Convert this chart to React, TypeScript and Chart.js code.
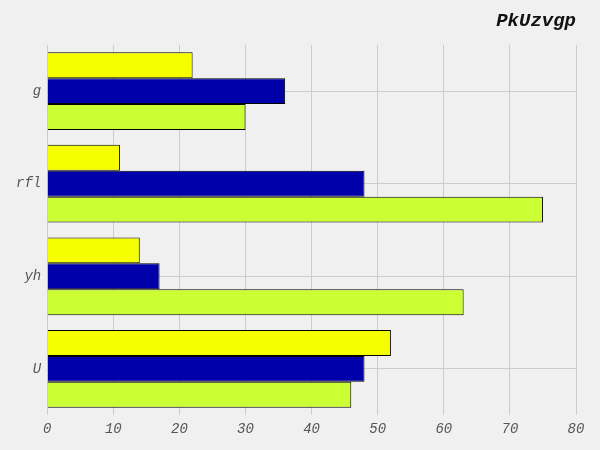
import { useEffect, useRef } from 'react'
import { Chart, registerables } from 'chart.js'
Chart.register(...registerables)

const categories = ['g', 'rfl', 'yh', 'U']
const yellowValues = [22, 11, 14, 52]
const blueValues = [36, 48, 17, 48]
const greenValues = [30, 75, 63, 46]
const xTicks = [0, 10, 20, 30, 40, 50, 60, 70, 80]

const mono = "'Liberation Mono', 'DejaVu Sans Mono', monospace"

export default function App() {
    const canvasRef = useRef<HTMLCanvasElement>(null)
    const chartRef = useRef<Chart | null>(null)

    useEffect(() => {
        document.body.style.margin = '0'
        if (!canvasRef.current) return
        const ctx = canvasRef.current.getContext('2d')!
        chartRef.current?.destroy()
        const bar = (data: number[], color: string) => ({
            data, backgroundColor: color, borderColor: '#000000', borderWidth: 1,
            barPercentage: 1, categoryPercentage: 0.84,
        })
        chartRef.current = new Chart(ctx, {
            type: 'bar',
            data: {
                labels: categories,
                datasets: [
                    bar(yellowValues, '#f5ff00'),
                    bar(blueValues, '#0000aa'),
                    bar(greenValues, '#ccff33'),
                ],
            },
            options: {
                indexAxis: 'y',
                animation: false,
                responsive: true, maintainAspectRatio: false,
                layout: { padding: { left: 10, right: 24, top: 6, bottom: 6 } },
                plugins: {
                    legend: { display: false },
                    tooltip: { enabled: false },
                    title: {
                        display: true, text: 'PkUzvgp', align: 'end', color: '#111',
                        font: { family: mono, size: 19, weight: 'bold', style: 'italic' },
                        padding: { top: 4, bottom: 12 },
                    },
                },
                scales: {
                    x: {
                        min: 0, max: 80,
                        afterBuildTicks: (s: any) => { s.ticks = xTicks.map(v => ({ value: v })) },
                        grid: { color: '#cccccc', drawTicks: false },
                        border: { display: false },
                        ticks: { color: '#555', padding: 6, font: { family: mono, size: 14, style: 'italic' } },
                    },
                    y: {
                        grid: { color: '#cccccc', offset: false, drawTicks: false },
                        border: { display: false },
                        ticks: { color: '#555', padding: 6, font: { family: mono, size: 14, style: 'italic' } },
                    },
                },
            },
        })
        return () => chartRef.current?.destroy()
    }, [])

    return (
        <div style={{ position: 'absolute', left: 0, top: 0, width: 600, height: 450, background: '#f0f0f0' }}>
            <canvas ref={canvasRef} />
        </div>
    )
}
